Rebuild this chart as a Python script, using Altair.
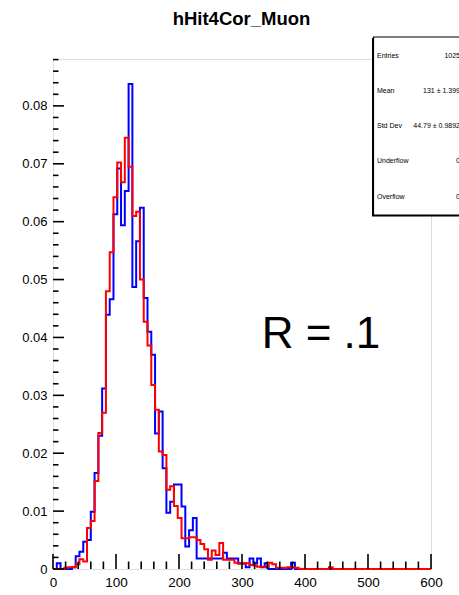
import altair as alt
import pandas as pd

# ---------------- data ----------------
title_text = "hHit4Cor_Muon"
n_bins = 100
x_min, x_max = 0, 600

blue_vals = [
    0, 0.001, 0, 0, 0, 0.0003, 0.0022, 0.003, 0.0047, 0.005,
    0.0099, 0.0166, 0.023, 0.0312, 0.0439, 0.0466, 0.0613, 0.0692, 0.0594, 0.0653,
    0.0838, 0.0487, 0.0566, 0.0624, 0.0468, 0.041, 0.037, 0.0234, 0.0272, 0.0174,
    0.0097, 0.0116, 0.0146, 0.0146, 0.0108, 0.0039, 0.0067, 0.0088, 0.0018, 0.0018,
    0.0018, 0.0018, 0.0018, 0.0018, 0.0018, 0.0028, 0.0018, 0.0018, 0.0018, 0.001,
    0.001, 0.0003, 0.0018, 0.001, 0.0018, 0.0003, 0.001, 0, 0, 0,
    0, 0, 0, 0.0011, 0, 0, 0, 0, 0, 0,
    0, 0, 0, 0, 0, 0, 0, 0, 0, 0,
    0, 0, 0, 0, 0, 0, 0, 0, 0, 0,
    0, 0, 0, 0, 0, 0, 0, 0, 0, 0,
]
red_vals = [
    0, 0, 0, 0.0002, 0.0003, 0.0003, 0.0008, 0.0017, 0.0013, 0.0071,
    0.0083, 0.0152, 0.0235, 0.027, 0.048, 0.0547, 0.0642, 0.0702, 0.0668, 0.0745,
    0.0695, 0.061, 0.0617, 0.050, 0.0427, 0.0386, 0.0318, 0.0275, 0.0203, 0.0197,
    0.0137, 0.0143, 0.0109, 0.0088, 0.0053, 0.0053, 0.0055, 0.0055, 0.005, 0.0043,
    0.0034, 0.0016, 0.0032, 0.0024, 0.0045, 0.0016, 0.0016, 0.0016, 0.0011, 0.0009,
    0.0009, 0.001, 0.0007, 0.0006, 0.0004, 0.0004, 0.0004, 0.0011, 0.0008, 0.0002,
    0.0002, 0.0002, 0.0003, 0.0003, 0.0002, 0, 0, 0, 0, 0,
    0, 0, 0, 0.0003, 0, 0, 0, 0, 0, 0,
    0, 0, 0, 0, 0, 0, 0, 0, 0, 0,
    0, 0, 0, 0, 0, 0, 0, 0, 0, 0,
]

y_major = [0, 0.01, 0.02, 0.03, 0.04, 0.05, 0.06, 0.07, 0.08]
y_minor = [round(0.002 * k, 3) for k in range(1, 45) if k % 5 != 0]
x_major = [0, 100, 200, 300, 400, 500, 600]
x_minor = [20 * k for k in range(1, 30) if k % 5 != 0]

stat_labels = ["Entries", "Mean", "Std Dev", "Underflow", "Overflow"]
stat_values = ["1025", "131 \u00b1  1.399", "44.79 \u00b1  0.9892", "0", "0"]
annotation = "R = .1"

# ---------------- build ----------------
bw = (x_max - x_min) / n_bins
edges = [x_min + bw * i for i in range(n_bins + 1)]

def step_df(vals, name):
    return pd.DataFrame({"x": edges, "y": list(vals) + [vals[-1]], "s": name})

W, H = 378, 510
xscale = alt.Scale(domain=[x_min, x_max], nice=False, zero=False)
yscale = alt.Scale(domain=[0, 0.0881], nice=False)
xaxis = alt.Axis(values=x_major, title=None, ticks=False, domain=False, grid=False,
                 labelFontSize=13.5, labelFont="Liberation Sans", labelColor="black",
                 labelPadding=6, labelFlush=False, labelOverlap=False)
yaxis = alt.Axis(values=y_major, title=None, ticks=False, domain=False, grid=False,
                 format=".2~f", labelFontSize=13, labelFont="Liberation Sans",
                 labelColor="black", labelPadding=6, labelOverlap=False)

def hist_line(vals, name, color):
    return alt.Chart(step_df(vals, name)).mark_line(
        interpolate="step-after", color=color, strokeWidth=2
    ).encode(
        x=alt.X("x:Q", scale=xscale, axis=xaxis),
        y=alt.Y("y:Q", scale=yscale, axis=yaxis),
    )

blue = hist_line(blue_vals, "blue", "#0000ff")
red = hist_line(red_vals, "red", "#ff0000")

ymaj = alt.Chart(pd.DataFrame({"y": y_major})).mark_rule(color="black", strokeWidth=1.6).encode(
    y=alt.Y("y:Q", scale=yscale, axis=yaxis), x=alt.value(0), x2=alt.value(11))
ymin = alt.Chart(pd.DataFrame({"y": y_minor})).mark_rule(color="black", strokeWidth=1.6).encode(
    y=alt.Y("y:Q", scale=yscale, axis=yaxis), x=alt.value(0), x2=alt.value(5.5))
xmaj = alt.Chart(pd.DataFrame({"x": x_major})).mark_rule(color="black", strokeWidth=1.6).encode(
    x=alt.X("x:Q", scale=xscale, axis=xaxis), y=alt.value(H), y2=alt.value(H - 15))
xmin = alt.Chart(pd.DataFrame({"x": x_minor})).mark_rule(color="black", strokeWidth=1.6).encode(
    x=alt.X("x:Q", scale=xscale, axis=xaxis), y=alt.value(H), y2=alt.value(H - 7.5))

title = alt.Chart(pd.DataFrame({"t": [title_text]})).mark_text(
    font="Liberation Sans", fontSize=18.5, fontWeight="bold", color="black",
    align="center", baseline="alphabetic"
).encode(text="t:N", x=alt.value(188.5), y=alt.value(-34))

shadow = alt.Chart(pd.DataFrame({"a": [0]})).mark_rect(color="black").encode(
    x=alt.value(319), x2=alt.value(420), y=alt.value(-21), y2=alt.value(157.5))
box = alt.Chart(pd.DataFrame({"a": [0]})).mark_rect(
    fill="white", stroke="black", strokeWidth=1.2).encode(
    x=alt.value(320.5), x2=alt.value(430), y=alt.value(-22), y2=alt.value(156))

row_pos = [-3, 32, 67, 102, 138]
stat_layers = []
for lab, val, ry in zip(stat_labels, stat_values, row_pos):
    d = pd.DataFrame({"lab": [lab], "val": [val]})
    stat_layers.append(alt.Chart(d).mark_text(
        font="Liberation Sans", fontSize=7, color="black", align="left", baseline="middle"
    ).encode(text="lab:N", x=alt.value(324), y=alt.value(ry)))
    stat_layers.append(alt.Chart(d).mark_text(
        font="Liberation Sans", fontSize=7, color="black", align="right", baseline="middle"
    ).encode(text="val:N", x=alt.value(407), y=alt.value(ry)))

rtext = alt.Chart(pd.DataFrame({"t": [annotation]})).mark_text(
    font="Liberation Sans", fontSize=44, color="black", align="center", baseline="alphabetic",
    fontWeight="normal"
).encode(text="t:N", x=alt.value(268), y=alt.value(289))

chart = alt.layer(
    blue, red, ymaj, ymin, xmaj, xmin, title, shadow, box, *stat_layers, rtext
).properties(
    width=W, height=H,
    autosize=alt.AutoSizeParams(type="none"),
    padding={"left": 53, "top": 59, "right": 28, "bottom": 26},
).configure_view(stroke="black", strokeWidth=2).configure(background="white")

chart.save("out.html", embed_options={"renderer": "svg", "actions": False})
